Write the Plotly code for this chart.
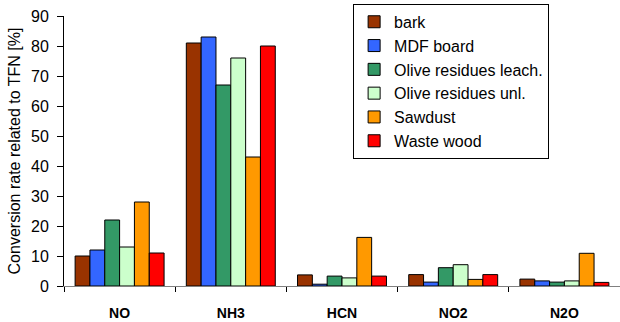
import plotly.graph_objects as go

# Gas species on the x axis
species = ["NO", "NH3", "HCN", "NO2", "N2O"]

# Conversion rate of fuel nitrogen (% of TFN) per fuel
bark = [10, 81, 3.7, 3.8, 2.3]
mdf_board = [12, 83, 0.6, 1.3, 1.7]
olive_leach = [22, 67, 3.3, 6.1, 1.3]
olive_unl = [13, 76, 2.7, 7.1, 1.7]
sawdust = [28, 43, 16.2, 2.2, 10.9]
waste_wood = [11, 80, 3.3, 3.8, 1.2]

series = [
    ("bark", bark, "#993300"),
    ("MDF board", mdf_board, "#3366FF"),
    ("Olive residues leach.", olive_leach, "#339966"),
    ("Olive residues unl.", olive_unl, "#CCFFCC"),
    ("Sawdust", sawdust, "#FF9900"),
    ("Waste wood", waste_wood, "#FF0000"),
]

FONT = "Liberation Sans, Arial, sans-serif"

fig = go.Figure()
for name, vals, color in series:
    fig.add_trace(go.Bar(
        x=species, y=vals, name=name,
        marker=dict(color=color, line=dict(color="black", width=1)),
    ))

fig.update_layout(
    width=620, height=322,
    margin=dict(l=64, r=0, t=16, b=36),
    barmode="group", bargap=0.2, bargroupgap=0,
    plot_bgcolor="white", paper_bgcolor="white",
    font=dict(family=FONT, size=16, color="black"),
    showlegend=True,
    legend=dict(
        x=0.52, y=1.045, xanchor="left", yanchor="top",
        bordercolor="black", borderwidth=1, bgcolor="white",
        font=dict(size=16), tracegroupgap=0,
    ),
)

fig.update_xaxes(
    showline=True, linecolor="#808080", linewidth=1,
    ticks="outside", tickson="boundaries", ticklen=5, tickcolor="black",
    tickfont=dict(size=14, family=FONT, weight="bold"),
    ticklabelstandoff=14,
    showgrid=False,
)
fig.update_yaxes(
    range=[0, 90], dtick=10,
    showline=True, linecolor="black", linewidth=1,
    ticks="outside", ticklen=6, tickcolor="black",
    tickfont=dict(size=16), ticklabelstandoff=5,
    showgrid=False, zeroline=False,
    title=dict(text="Conversion rate related to TFN [%]", font=dict(size=16), standoff=6),
)

fig.write_html("out.html")
